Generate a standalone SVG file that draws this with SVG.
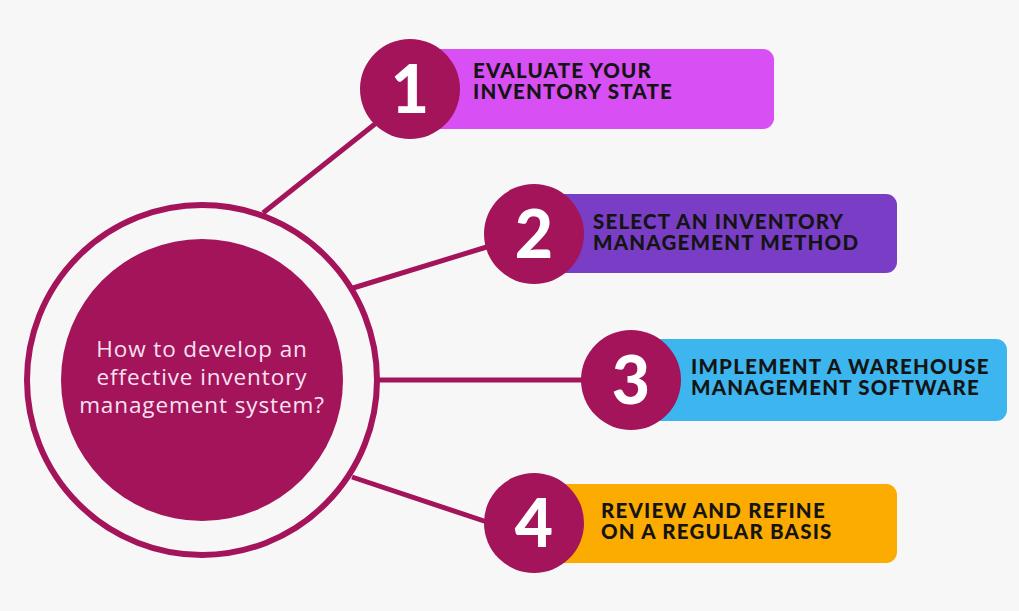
<svg xmlns="http://www.w3.org/2000/svg" width="1019" height="611" viewBox="0 0 1019 611">
<style>
.bg{fill:#f7f7f7}
.ring{fill:none;stroke:#a3145a;stroke-width:6}
.hub{fill:#a3145a}
.num{fill:#a3145a}
.conn{stroke:#a3145a;stroke-width:5;fill:none}
.numtxt{font-family:Lato,"Noto Sans",sans-serif;font-weight:900;font-size:66px;fill:#ffffff;text-anchor:middle}
.lbl{font-family:Lato,"Noto Sans",sans-serif;font-weight:900;font-size:20.5px;letter-spacing:1.2px;fill:#141414}
.q{font-family:"Open Sans","Noto Sans",sans-serif;font-size:22.5px;letter-spacing:0.9px;fill:#f8e1f1;text-anchor:middle}
</style>
<rect class="bg" x="0" y="0" width="1019" height="611"/>
<g id="connectors">
<line class="conn" x1="263" y1="213" x2="380" y2="120"/>
<line class="conn" x1="353" y1="288" x2="490" y2="246"/>
<line class="conn" x1="378" y1="380" x2="585" y2="380"/>
<line class="conn" x1="352" y1="477" x2="490" y2="523"/>
</g>
<g id="hub">
<circle class="ring" cx="202" cy="380" r="175"/>
<circle class="hub" cx="202" cy="380" r="141"/>
<text class="q" x="202" y="357">How to develop an</text>
<text class="q" x="202" y="385">effective inventory</text>
<text class="q" x="202" y="413">management system?</text>
</g>
<g id="step1">
<rect x="410" y="49" width="364" height="80" rx="11" fill="#d84ff4"/>
<circle class="num" cx="410" cy="89" r="50"/>
<text class="numtxt" x="410" y="113">1</text>
<text class="lbl" x="473" y="78">EVALUATE YOUR</text>
<text class="lbl" x="473" y="99">INVENTORY STATE</text>
</g>
<g id="step2">
<rect x="534" y="194" width="363" height="79" rx="11" fill="#7a3ec6"/>
<circle class="num" cx="534" cy="234" r="50"/>
<text class="numtxt" x="534" y="258">2</text>
<text class="lbl" x="593" y="229">SELECT AN INVENTORY</text>
<text class="lbl" x="593" y="250">MANAGEMENT METHOD</text>
</g>
<g id="step3">
<rect x="630" y="339" width="377" height="82" rx="11" fill="#3db6ef"/>
<circle class="num" cx="631" cy="380" r="50"/>
<text class="numtxt" x="631" y="404">3</text>
<text class="lbl" x="691" y="374">IMPLEMENT A WAREHOUSE</text>
<text class="lbl" x="691" y="395">MANAGEMENT SOFTWARE</text>
</g>
<g id="step4">
<rect x="534" y="484" width="363" height="79" rx="11" fill="#fcab01"/>
<circle class="num" cx="534" cy="523" r="50"/>
<text class="numtxt" x="534" y="547">4</text>
<text class="lbl" x="601" y="518">REVIEW AND REFINE</text>
<text class="lbl" x="601" y="539">ON A REGULAR BASIS</text>
</g>
</svg>
